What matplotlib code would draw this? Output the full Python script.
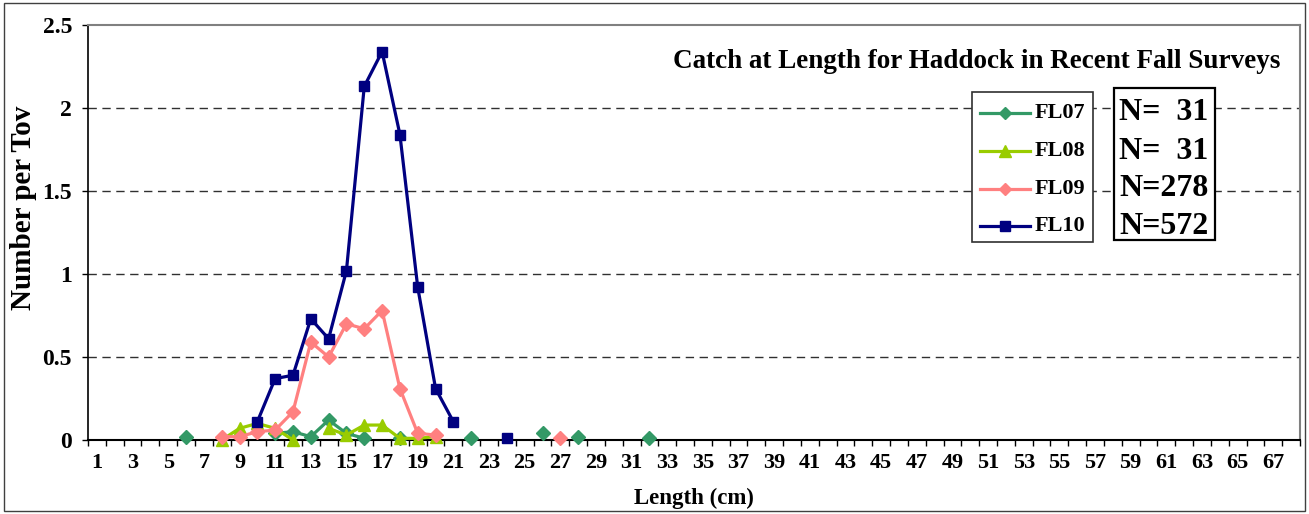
import numpy as np
import matplotlib
matplotlib.use("Agg")
import matplotlib.pyplot as plt
from matplotlib.patches import Rectangle
from matplotlib.lines import Line2D

plt.rcParams["font.family"] = ["Liberation Serif", "DejaVu Serif"]
plt.rcParams["font.weight"] = "bold"

# Length classes (cm) on the category axis
lengths = np.arange(1, 69)
tick_labels = [str(v) for v in range(1, 68, 2)]

# Number per tow, by survey (only lengths where fish were caught)
fl07_len = [6, 11, 12, 13, 14, 15, 16, 18, 22, 26, 28, 32]
fl07_val = [0.02, 0.04, 0.05, 0.02, 0.12, 0.04, 0.01, 0.01, 0.01, 0.04, 0.02, 0.01]

fl08_len = [8, 9, 10, 11, 12, 14, 15, 16, 17, 18, 19, 20]
fl08_val = [0.0, 0.07, 0.10, 0.07, 0.0, 0.07, 0.03, 0.09, 0.09, 0.01, 0.01, 0.02]

fl09_len = [8, 9, 10, 11, 12, 13, 14, 15, 16, 17, 18, 19, 20, 27]
fl09_val = [0.02, 0.02, 0.05, 0.06, 0.17, 0.59, 0.50, 0.70, 0.67, 0.78, 0.31, 0.04, 0.03, 0.01]

fl10_len = [10, 11, 12, 13, 14, 15, 16, 17, 18, 19, 20, 21, 24]
fl10_val = [0.11, 0.37, 0.39, 0.73, 0.61, 1.02, 2.13, 2.34, 1.84, 0.92, 0.31, 0.11, 0.01]

series_names = ["FL07", "FL08", "FL09", "FL10"]
sample_sizes = ["N=  31", "N=  31", "N=278", "N=572"]
colors = ["#339966", "#99CC00", "#FF8080", "#000080"]
markers = ["D", "^", "D", "s"]
marker_sizes = [7.2, 9, 7.2, 7.5]


def full_series(lens, vals):
    out = np.full(len(lengths), np.nan)
    for l, v in zip(lens, vals):
        out[l - 1] = v
    return out


W, H = 1309, 514
fig = plt.figure(figsize=(W / 100, H / 100), dpi=100)
ax = fig.add_axes([88 / W, (H - 440) / H, (1300 - 88) / W, (440 - 25) / H])

data = [(fl07_len, fl07_val), (fl08_len, fl08_val), (fl09_len, fl09_val), (fl10_len, fl10_val)]
for (lens, vals), name, c, m, ms in zip(data, series_names, colors, markers, marker_sizes):
    y = full_series(lens, vals)
    ax.plot(lengths, y, color=c, lw=2.3, marker=m, ms=ms, mec=c, mfc=c,
            label=name, clip_on=False, zorder=3)

ax.set_xlim(0.5, 68.5)
ax.set_ylim(0, 2.5)

# category boundaries get tick marks, odd lengths get labels
ax.set_xticks(np.arange(0.5, 69, 1))
ax.set_xticklabels([])
ax.set_xticks(np.arange(1, 68, 2), minor=True)
ax.set_xticklabels(tick_labels, minor=True)
ax.tick_params(axis="x", which="major", direction="out", length=4.5, width=1, color="black")
ax.tick_params(axis="x", which="minor", length=0, pad=9, labelsize=16)
ax.set_yticks([0, 0.5, 1, 1.5, 2, 2.5])
ax.set_yticklabels(["0", "0.5", "1", "1.5", "2", "2.5"])
ax.tick_params(axis="y", direction="out", length=4.5, width=1, labelsize=17, pad=7)

for yv in [0.5, 1, 1.5, 2]:
    ax.axhline(yv, color="#303030", lw=1, ls=(0, (6, 4)), zorder=1)

for side in ["top", "right"]:
    ax.spines[side].set_color("#808080")
    ax.spines[side].set_linewidth(1.5)
ax.spines["left"].set_color("black")
ax.spines["bottom"].set_color("black")
ax.spines["left"].set_linewidth(1.2)
ax.spines["bottom"].set_linewidth(1.5)

ax.set_xlabel("Length (cm)", fontsize=16.5, fontweight="bold", labelpad=11)
ax.set_ylabel("Number per Tov", fontsize=21, fontweight="bold")
ax.yaxis.set_label_coords((37 - 88) / 1212, (440 - 208) / 415)

fig.text(1280 / W, 1 - 62 / H, "Catch at Length for Haddock in Recent Fall Surveys",
         ha="right", va="center", fontsize=19.5, fontweight="bold")


def fx(px):
    return px / W


def fy(py):
    return 1 - py / H


# legend box with one row per survey
fig.add_artist(Rectangle((fx(972), fy(242)), fx(1093) - fx(972), fy(92) - fy(242),
                         transform=fig.transFigure, fc="white", ec="#303030", lw=1.2, zorder=5))
for i, (name, c, m, ms) in enumerate(zip(series_names, colors, markers, marker_sizes)):
    yrow = 113 + 37.8 * i
    fig.add_artist(Line2D([fx(980), fx(1030)], [fy(yrow), fy(yrow)], transform=fig.transFigure,
                          color=c, lw=2.3, zorder=6))
    fig.add_artist(Line2D([fx(1005)], [fy(yrow)], transform=fig.transFigure, color=c,
                          marker=m, ms=ms * 0.9, mec=c, mfc=c, ls="none", zorder=7))
    fig.text(fx(1035), fy(yrow), name, ha="left", va="center", fontsize=16,
             fontweight="bold", zorder=7)

# sample-size box
fig.add_artist(Rectangle((fx(1114), fy(240)), fx(1215) - fx(1114), fy(88) - fy(240),
                         transform=fig.transFigure, fc="white", ec="black", lw=1.6, zorder=5))
for i, s in enumerate(sample_sizes):
    fig.text(fx(1119), fy(113 + 38 * i), s, ha="left", va="center",
             fontsize=23, fontweight="bold", zorder=6)

# outer chart border
fig.add_artist(Rectangle((4 / W, 3 / H), (W - 8) / W, (H - 6) / H,
                         transform=fig.transFigure, fill=False, ec="#404040", lw=1))

fig.savefig("out.png", dpi=100)
